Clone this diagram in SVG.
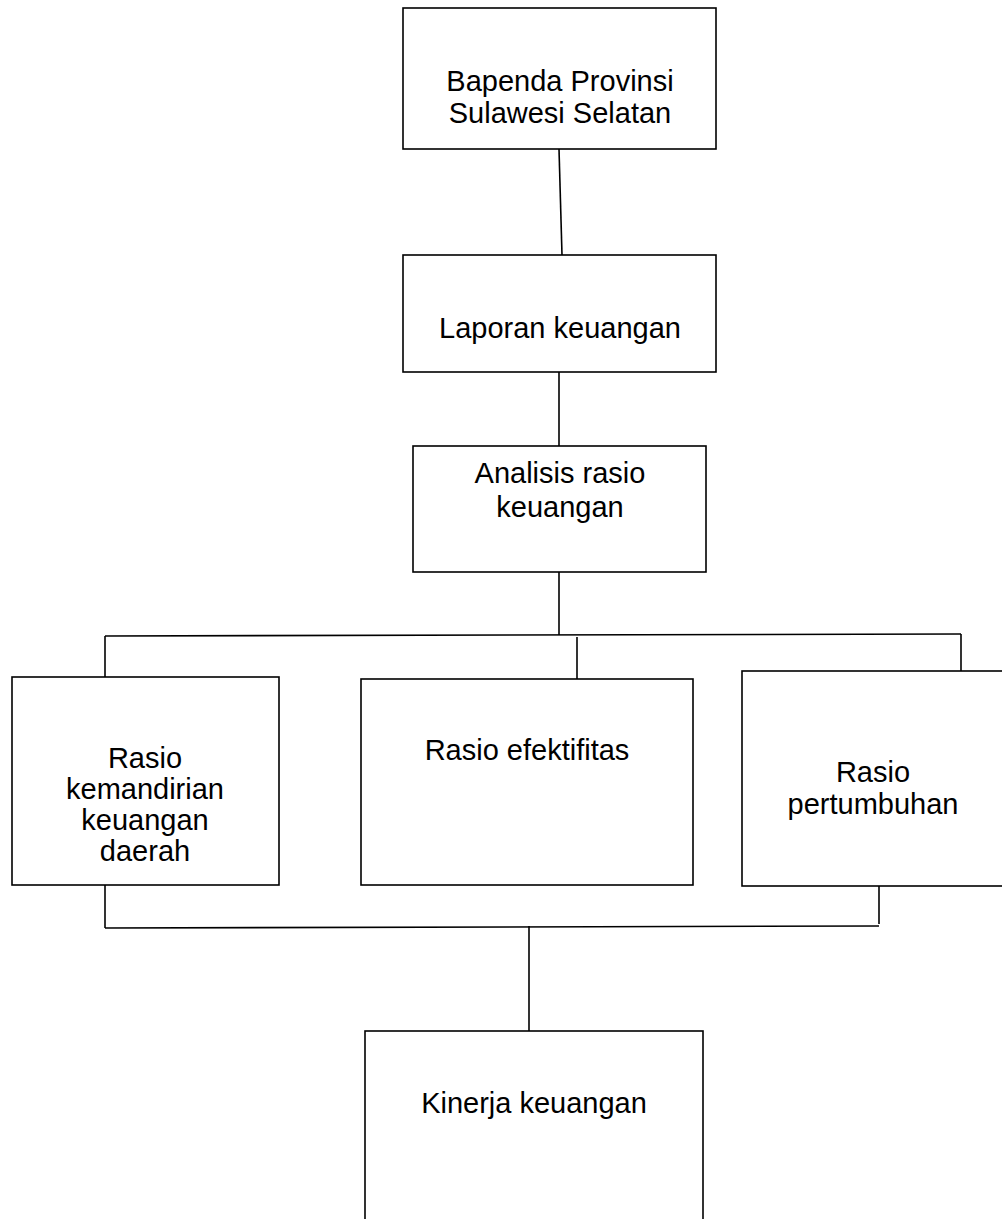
<svg xmlns="http://www.w3.org/2000/svg" width="1002" height="1219" viewBox="0 0 1002 1219">
<style>
  .box { fill: #fff; stroke: #000; stroke-width: 1.6; }
  .lbl { font-family: "Liberation Sans", Arial, sans-serif; font-size: 29px; fill: #000; text-anchor: middle; }
  .con { fill: none; stroke: #000; stroke-width: 1.6; }
</style>
<rect width="1002" height="1219" fill="#fff"/>
<g id="connectors">
  <line class="con" x1="559" y1="149" x2="562" y2="255"/>
  <line class="con" x1="559" y1="372" x2="559" y2="446"/>
  <line class="con" x1="559" y1="572" x2="559" y2="635"/>
  <line class="con" x1="105" y1="636" x2="961" y2="634"/>
  <line class="con" x1="105" y1="636" x2="105" y2="677"/>
  <line class="con" x1="577" y1="637" x2="577" y2="679"/>
  <line class="con" x1="961" y1="634" x2="961" y2="671"/>
  <line class="con" x1="105" y1="885" x2="105" y2="928"/>
  <line class="con" x1="879" y1="885" x2="879" y2="924"/>
  <line class="con" x1="105" y1="928" x2="879" y2="926"/>
  <line class="con" x1="529" y1="926" x2="529" y2="1031"/>
</g>
<g id="node-bapenda">
  <rect class="box" x="403" y="8" width="313" height="141"/>
  <text class="lbl" x="560" y="91">Bapenda Provinsi</text>
  <text class="lbl" x="560" y="123">Sulawesi Selatan</text>
</g>
<g id="node-laporan">
  <rect class="box" x="403" y="255" width="313" height="117"/>
  <text class="lbl" x="560" y="338">Laporan keuangan</text>
</g>
<g id="node-analisis">
  <rect class="box" x="413" y="446" width="293" height="126"/>
  <text class="lbl" x="560" y="483">Analisis rasio</text>
  <text class="lbl" x="560" y="517">keuangan</text>
</g>
<g id="node-kemandirian">
  <rect class="box" x="12" y="677" width="267" height="208"/>
  <text class="lbl" x="145" y="768">Rasio</text>
  <text class="lbl" x="145" y="799">kemandirian</text>
  <text class="lbl" x="145" y="830">keuangan</text>
  <text class="lbl" x="145" y="861">daerah</text>
</g>
<g id="node-efektifitas">
  <rect class="box" x="361" y="679" width="332" height="206"/>
  <text class="lbl" x="527" y="760">Rasio efektifitas</text>
</g>
<g id="node-pertumbuhan">
  <rect class="box" x="742" y="671" width="300" height="215"/>
  <text class="lbl" x="873" y="782">Rasio</text>
  <text class="lbl" x="873" y="814">pertumbuhan</text>
</g>
<g id="node-kinerja">
  <rect class="box" x="365" y="1031" width="338" height="220"/>
  <text class="lbl" x="534" y="1113">Kinerja keuangan</text>
</g>
</svg>
